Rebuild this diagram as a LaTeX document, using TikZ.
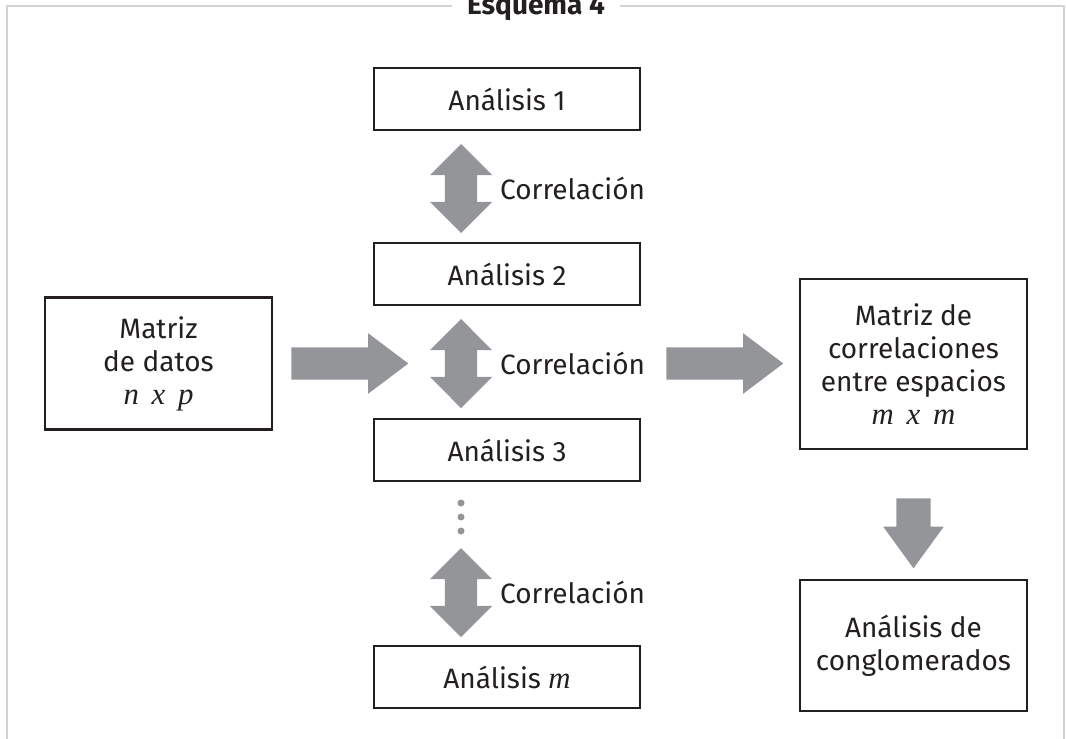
\documentclass[tikz,border=0pt]{standalone}
\usepackage{fontspec}
\setmainfont{Fira Sans}
\newfontfamily\mates[Scale=1.1]{Liberation Serif}
\newcommand{\var}[1]{{\mates\itshape #1}}
\newcommand{\por}{\hspace{5pt} x\hspace{5pt} }
\usetikzlibrary{positioning,shapes.arrows}

\definecolor{flecha}{HTML}{939598}
\definecolor{marco}{HTML}{D1D3D4}
\definecolor{tinta}{HTML}{231F20}

\tikzset{
  caja/.style={draw=tinta, line width=2.2pt, text=tinta, align=center, inner sep=0pt},
  analisis/.style={caja, minimum width=266pt, minimum height=62pt},
  matriz/.style={caja, minimum width=227pt},
  flechader/.style={single arrow, fill=flecha, inner xsep=0pt, inner ysep=16pt,
    single arrow head extend=14pt, single arrow tip angle=74, minimum height=117pt},
  flechaabajo/.style={flechader, rotate=-90, inner ysep=17pt,
    single arrow head extend=13pt, single arrow tip angle=72, minimum height=70pt},
  flechadoble/.style={double arrow, fill=flecha, rotate=90, inner xsep=0pt, inner ysep=16pt,
    double arrow head extend=15pt, minimum height=89pt},
  etiqueta/.style={text=tinta, inner sep=0pt},
  marcolinea/.style={draw=marco, line width=2pt}
}

\begin{document}
\begin{tikzpicture}[x=1pt, y=-1pt, node distance=18pt, font=\fontsize{28}{33}\selectfont]
\useasboundingbox (0,0) rectangle (1066,739);

% marco y titulo
\node [etiqueta, font=\bfseries\fontsize{28}{33}\selectfont, inner xsep=15pt, anchor=base] (titulo) at (536,14) {Esquema 4};
\coordinate (mi) at (7,6);
\coordinate (md) at (1064,6);
\draw [marcolinea] (7,745) -- (mi) -- (titulo.west |- mi);
\draw [marcolinea] (titulo.east |- md) -- (md) -- (1064,745);

% columna de analisis
\node [analisis] (a1) at (507,99) {Análisis 1};
\node [analisis] (a2) at (507,274) {Análisis 2};
\node [analisis] (a3) at (507,450) {Análisis 3};
\node [analisis] (am) at (507,677) {Análisis \var{m}};

% matrices
\node [matriz, minimum height=132pt] (datos) at (158.5,363.5) {Matriz\\de datos\\\var{n\por p}};
\node [matriz, minimum height=170pt] (corr) at (913.5,364) {Matriz de\\correlaciones\\entre espacios\\\var{m\por m}};
\node [matriz, minimum height=131pt] (cong) at (913.5,645.5) {Análisis de\\conglomerados};

% flechas
\node [flechadoble] (c1) at (461,188.5) {};
\node [flechadoble] (c2) at (461,363.5) {};
\node [flechadoble] (c3) at (461,592.5) {};
\node [etiqueta, right=39pt of c1.center] (l1) {Correlación};
\node [etiqueta, right=39pt of c2.center] (l2) {Correlación};
\node [etiqueta, right=39pt of c3.center] (l3) {Correlación};

\foreach \y in {503,517,531}
  \fill [flecha] (461,\y) circle (3.5pt);

\node [flechader, right=18pt of datos] (f1) {};
\node [flechader, anchor=west] (f2) at ([xshift=25pt]a2.east |- f1.west) {};
\node [flechaabajo, anchor=west] (f3) at ([yshift=-48pt]corr.south) {};

\end{tikzpicture}
\end{document}
